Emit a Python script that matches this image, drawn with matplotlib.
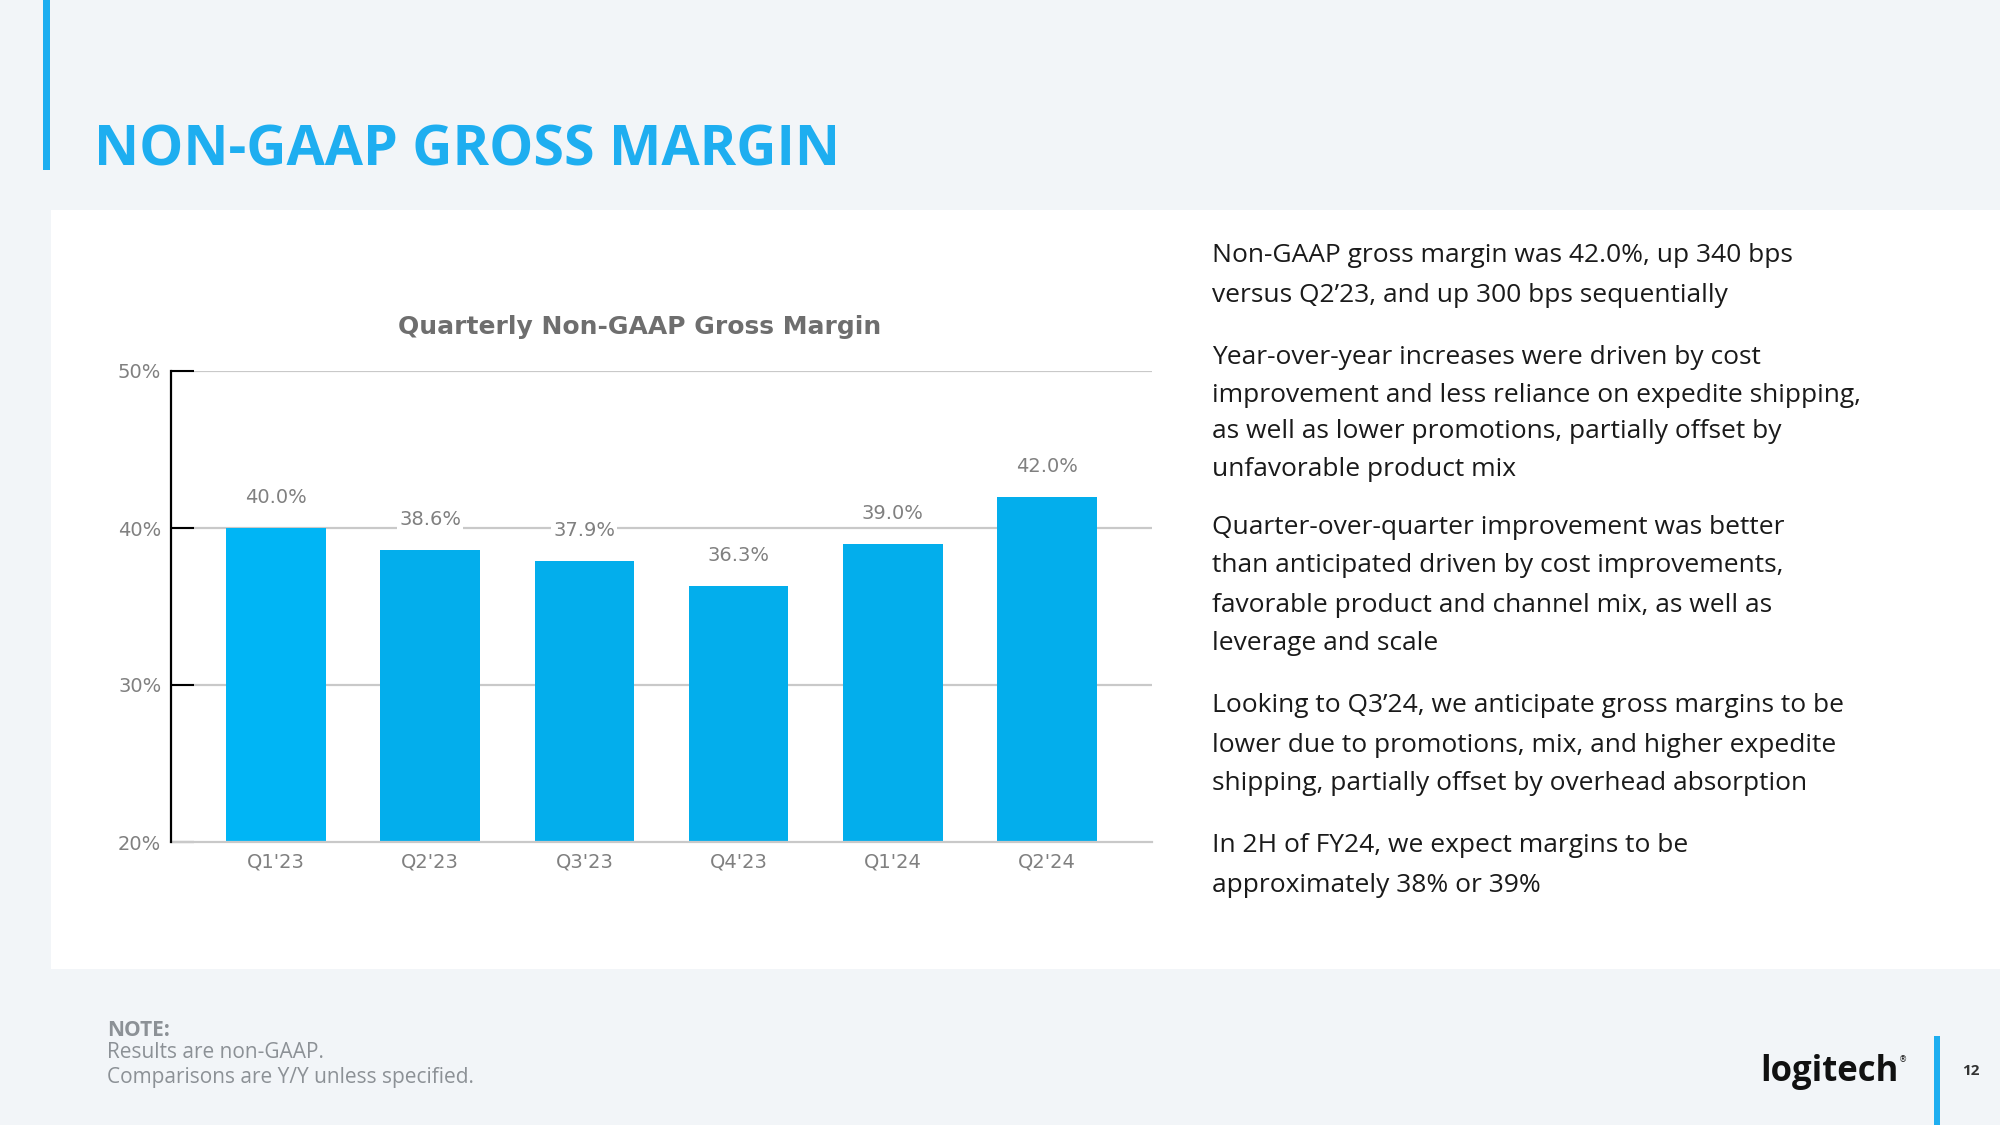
import matplotlib
matplotlib.use("Agg")
import matplotlib.pyplot as plt
from matplotlib.patches import Rectangle

# ---------------- data ----------------
quarters = ["Q1'23", "Q2'23", "Q3'23", "Q4'23", "Q1'24", "Q2'24"]
margins = [40.0, 38.6, 37.9, 36.3, 39.0, 42.0]
bar_labels = ["40.0%", "38.6%", "37.9%", "36.3%", "39.0%", "42.0%"]
y_ticks = [20, 30, 40, 50]
y_tick_labels = ["20%", "30%", "40%", "50%"]

page_title = "NON-GAAP GROSS MARGIN"
chart_title = "Quarterly Non-GAAP Gross Margin"
paragraphs = [
    ["Non-GAAP gross margin was 42.0%, up 340 bps",
     "versus Q2\u201923, and up 300 bps sequentially"],
    ["Year-over-year increases were driven by cost",
     "improvement and less reliance on expedite shipping,",
     "as well as lower promotions, partially offset by",
     "unfavorable product mix"],
    ["Quarter-over-quarter improvement was better",
     "than anticipated driven by cost improvements,",
     "favorable product and channel mix, as well as",
     "leverage and scale"],
    ["Looking to Q3\u201924, we anticipate gross margins to be",
     "lower due to promotions, mix, and higher expedite",
     "shipping, partially offset by overhead absorption"],
    ["In 2H of FY24, we expect margins to be",
     "approximately 38% or 39%"],
]
note_lines = ["Results are non-GAAP.", "Comparisons are Y/Y unless specified."]

# ---------------- figure ----------------
W, H = 2000, 1125
fig = plt.figure(figsize=(20, 11.25), dpi=100)
fig.patch.set_facecolor("#F2F5F8")

def fx(px):
    return px / W

def fy(py):
    return 1 - py / H

# white panel
fig.patches.append(Rectangle((fx(51), fy(969)), fx(2000) - fx(51), fy(210) - fy(969),
                             transform=fig.transFigure, facecolor="white",
                             edgecolor="none", zorder=-5))
# left accent bar
fig.patches.append(Rectangle((fx(43), fy(170)), fx(7), fy(0) - fy(170),
                             transform=fig.transFigure, facecolor="#1EAEF0",
                             edgecolor="none", zorder=-4))
# footer accent bar
fig.patches.append(Rectangle((fx(1934), fy(1125)), fx(6), fy(1036) - fy(1125),
                             transform=fig.transFigure, facecolor="#1EAEF0",
                             edgecolor="none", zorder=-4))

fig.text(fx(94), fy(166), page_title, fontsize=40, fontweight="bold",
         color="#1EAEF0", family="Open Sans", va="baseline", ha="left")

# ---------------- chart ----------------
ax_left, ax_right, ax_top, ax_bot = 171, 1152, 371, 842
ax = fig.add_axes([fx(ax_left), fy(ax_bot), fx(ax_right - ax_left), fy(ax_top) - fy(ax_bot)])
ax.set_zorder(2)
ax.set_facecolor("none")
x = list(range(len(quarters)))
colors = ["#00B5F5"] + ["#03AEEC"] * 5
ax.bar(x, margins, width=0.645, color=colors, zorder=2)
ax.set_xlim(-0.68, 5.68)
ax.set_ylim(20, 50)
ax.set_yticks(y_ticks)
ax.set_yticklabels(y_tick_labels)
ax.set_xticks(x)
ax.set_xticklabels(quarters)
for yv in y_ticks[1:]:
    ax.axhline(yv, color="#C9C9C9", lw=1.6, zorder=1)
for s in ["top", "right"]:
    ax.spines[s].set_visible(False)
ax.spines["bottom"].set_color("#C9C9C9")
ax.spines["bottom"].set_linewidth(1.6)
ax.spines["left"].set_color("black")
ax.spines["left"].set_linewidth(1.6)
ax.spines["left"].set_zorder(3)
ax.tick_params(axis="y", direction="in", length=16.5, width=1.5, color="black",
               labelsize=14, labelcolor="#808080", pad=7)
ax.tick_params(axis="x", length=0, labelsize=14, labelcolor="#808080", pad=7.5)
for lab in ax.get_xticklabels() + ax.get_yticklabels():
    lab.set_family("DejaVu Sans")

for xi, v, lab in zip(x, margins, bar_labels):
    ax.annotate(lab, (xi, v), xytext=(0, 22), textcoords="offset points",
                ha="center", va="center", fontsize=14, color="#808080",
                family="DejaVu Sans", zorder=4,
                bbox=dict(boxstyle="square,pad=0.1", facecolor="white", edgecolor="none"))

fig.text(fx(640), fy(327), chart_title, fontsize=18, fontweight="bold",
         color="#6E6E6E", family="DejaVu Sans", ha="center", va="center")

# ---------------- commentary ----------------
line_y = [
    [256, 295],
    [358, 395, 432, 469],
    [528, 566, 605, 644],
    [706, 745, 784],
    [846, 885],
]
for para, ys in zip(paragraphs, line_y):
    for line, yy in zip(para, ys):
        fig.text(fx(1212), fy(yy), line, fontsize=19, color="#1A1A1A",
                 family="Open Sans", ha="left", va="center")

# ---------------- footer ----------------
fig.text(fx(107), fy(1030), "NOTE:", fontsize=15, fontweight="bold",
         color="#8C9196", family="Open Sans", ha="left", va="center")
for line, yy in zip(note_lines, [1053, 1077]):
    fig.text(fx(107), fy(yy), line, fontsize=15, color="#8C9196",
             family="Open Sans", ha="left", va="center")

fig.text(fx(1760), fy(1072), "logitech", fontsize=25, fontweight="bold",
         color="#111111", family="Open Sans", ha="left", va="center")
fig.text(fx(1899), fy(1060), "\u00ae", fontsize=6, color="#111111",
         family="DejaVu Sans", ha="left", va="center")
fig.text(fx(1962), fy(1071), "12", fontsize=11, fontweight="bold",
         color="#333333", family="Open Sans", ha="left", va="center")

fig.savefig("out.png", dpi=100, facecolor=fig.get_facecolor())
